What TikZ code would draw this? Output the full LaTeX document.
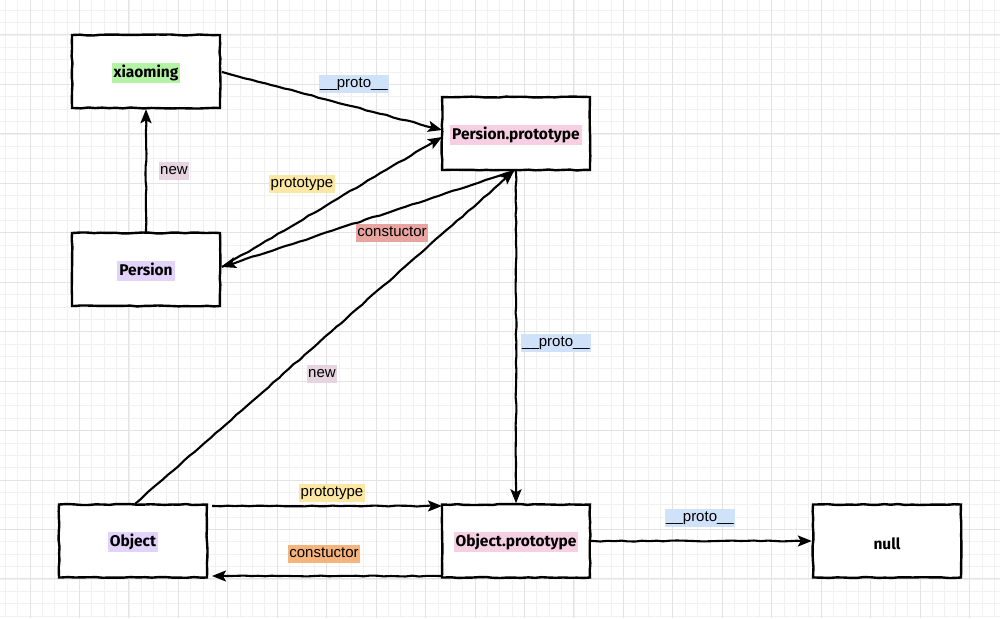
\documentclass[tikz,border=0pt]{standalone}
\usepackage{fontspec}
\setmainfont{Liberation Sans}
\newfontfamily\boxfont{Fira Sans}
\usetikzlibrary{arrows.meta,decorations.pathmorphing}

\definecolor{gridminor}{HTML}{F1F1F1}
\definecolor{gridmajor}{HTML}{E3E3E3}
\definecolor{hlgreen}{HTML}{B4F3A6}
\definecolor{hlpink}{HTML}{F6D0E2}
\definecolor{hlpurple}{HTML}{E2D3FA}
\definecolor{hlmauve}{HTML}{E6D4E0}
\definecolor{hlblue}{HTML}{CFE2FA}
\definecolor{hlyellow}{HTML}{FDE7A5}
\definecolor{hlred}{HTML}{E8A5A0}
\definecolor{hlorange}{HTML}{F6B47C}

\tikzset{
  sketch/.style={decorate, decoration={random steps, segment length=7pt, amplitude=0.5pt, pre length=2pt, post length=6pt}},
  objbox/.style={draw=black, fill=white, line width=2.4pt, minimum width=148pt, minimum height=73pt,
    inner sep=0pt, sketch, font=\boxfont\bfseries\fontsize{15.5}{18}\selectfont},
  link/.style={line width=2.1pt, sketch, -{Stealth[length=14pt,width=11pt,inset=3pt]}},
  lab/.style={inner xsep=1.5pt, inner ysep=2pt, text height=11pt, text depth=3.5pt, font=\fontsize{15}{17}\selectfont},
}
% highlighted object name, set a little below the middle of its box
\newcommand{\hlbox}[2]{\raisebox{-5.75pt}[0pt][0pt]{\setlength{\fboxsep}{2pt}\colorbox{#1}{\rule[-3.5pt]{0pt}{15pt}#2}}}

\begin{document}
\begin{tikzpicture}[x=1pt,y=-1pt]
  \useasboundingbox (0,0) rectangle (1000,618);
  \fill[white] (0,0) rectangle (1000,618);
  % background grid
  \foreach \i in {0,...,81} {
    \draw[gridminor, line width=0.8pt] ({5.28+12.3625*\i},0) -- ({5.28+12.3625*\i},618);
  }
  \foreach \i in {0,...,50} {
    \draw[gridminor, line width=0.8pt] (0,{10.28+12.3625*\i}) -- (1000,{10.28+12.3625*\i});
  }
  \foreach \i in {0,...,20} {
    \draw[gridmajor, line width=1pt] ({30+49.45*\i},0) -- ({30+49.45*\i},618);
  }
  \foreach \i in {0,...,12} {
    \draw[gridmajor, line width=1pt] (0,{35+49.45*\i}) -- (1000,{35+49.45*\i});
  }

  % objects
  \node[objbox] (xm) at (146,71.5) {\hlbox{hlgreen}{xiaoming}};
  \node[objbox] (pp) at (516,133.5) {\hlbox{hlpink}{Persion.prototype}};
  \node[objbox] (pe) at (146,269.5) {\hlbox{hlpurple}{Persion}};
  \node[objbox] (ob) at (133,541) {\hlbox{hlpurple}{Object}};
  \node[objbox] (op) at (516,541) {\hlbox{hlpink}{Object.prototype}};
  \node[objbox] (nu) at (887,541) {\raisebox{-8pt}[0pt][0pt]{null}};

  % anchor points for the links
  \coordinate (xmR) at (222,72);
  \coordinate (ppL1) at (442,130);
  \coordinate (ppL2) at (442,137);
  \coordinate (ppB) at (514,171);
  \coordinate (peR) at (222,267);
  \coordinate (obT) at (135,504);
  \coordinate (obR1) at (212,506);
  \coordinate (opL1) at (442,506);
  \coordinate (opL2) at (442,576);
  \coordinate (obR2) at (212,576);

  % links
  \draw[link] (xmR) -- (ppL1);
  \draw[link] (pe.north) -- (xm.south);
  \draw[link] (peR) -- (ppL2);
  \draw[link] (ppB) -- (peR);
  \draw[link] (obT) -- (ppB);
  \draw[link] (pp.south) -- (op.north);
  \draw[link] (obR1) -- (opL1);
  \draw[link] (opL2) -- (obR2);
  \draw[link] (op.east) -- (nu.west);

  % link labels
  \node[lab, fill=hlblue] (l1) at (354,84) {\_\_proto\_\_};
  \node[lab, fill=hlmauve] (l2) at (174,171) {new};
  \node[lab, fill=hlyellow] (l3) at (302,184) {prototype};
  \node[lab, fill=hlred] (l4) at (392,233) {constuctor};
  \node[lab, fill=hlmauve] (l5) at (322,374) {new};
  \node[lab, fill=hlblue] (l6) at (556,343) {\_\_proto\_\_};
  \node[lab, fill=hlyellow] (l7) at (332,493) {prototype};
  \node[lab, fill=hlorange] (l8) at (324,554) {constuctor};
  \node[lab, fill=hlblue] (l9) at (700,518) {\_\_proto\_\_};
\end{tikzpicture}
\end{document}
